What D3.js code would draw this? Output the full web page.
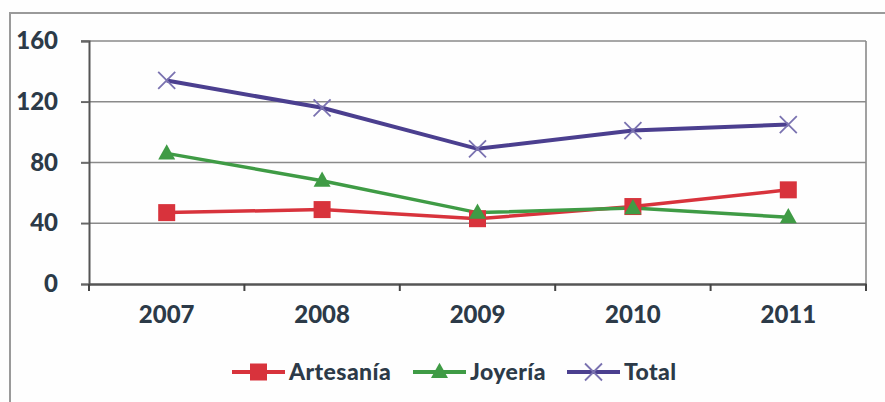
<!DOCTYPE html>
<html><head><meta charset="utf-8">
<script src="https://cdn.jsdelivr.net/npm/d3@7"></script>
<style>html,body{margin:0;padding:0;background:#fff;}svg{display:block;}</style>
</head><body>
<script>
const years = ["2007","2008","2009","2010","2011"];
const artesania = [47, 49, 43, 51, 62];
const joyeria = [86, 68, 47, 50, 44];
const total = [134, 116, 89, 101, 105];
const yTicks = [0, 40, 80, 120, 160];
const seriesNames = ["Artesanía","Joyería","Total"];

const W = 885, H = 402;
const m = {left: 89, right: 19, top: 41, bottom: 118};
const svg = d3.select("body").append("svg").attr("width", W).attr("height", H);
svg.append("rect").attr("width", W).attr("height", H).attr("fill", "#fefefe");
// outer frame
svg.append("path").attr("d", `M10,${H} L10,13 L${W},13`).attr("fill","none").attr("stroke","#9a9a9a").attr("stroke-width",2);

const x = d3.scaleBand().domain(years).range([m.left, W - m.right]);
const y = d3.scaleLinear().domain([0,160]).range([H - m.bottom, m.top]);
const textCol = "#2c3a48";
const font = "Lato, 'Open Sans', sans-serif";

// grid
svg.append("g").selectAll("line").data(yTicks.filter(d=>d>0)).join("line")
  .attr("x1", m.left - 8).attr("x2", W - m.right)
  .attr("y1", d=>y(d)).attr("y2", d=>y(d))
  .attr("stroke","#8a8a8a").attr("stroke-width",1.6);
// right border
svg.append("line").attr("x1", W-m.right).attr("x2", W-m.right).attr("y1", y(160)).attr("y2", y(0))
  .attr("stroke","#8a8a8a").attr("stroke-width",1.6);

// y axis
const yAxis = svg.append("g").attr("transform",`translate(${m.left},0)`)
  .call(d3.axisLeft(y).tickValues(yTicks).tickSize(8).tickPadding(23));
yAxis.select(".domain").attr("stroke","#555").attr("stroke-width",2);
yAxis.selectAll(".tick line").attr("stroke","#666").attr("stroke-width",1.6);
yAxis.selectAll("text").attr("font-family",font).attr("font-weight","900").attr("font-size",24).attr("fill",textCol);

// x axis
const xAxis = svg.append("g").attr("transform",`translate(0,${y(0)})`)
  .call(d3.axisBottom(x).tickSize(0).tickPadding(22));
xAxis.select(".domain").attr("stroke","#555").attr("stroke-width",2.5);
xAxis.selectAll("text").attr("font-family",font).attr("font-weight","900").attr("font-size",24).attr("fill",textCol);
// boundary ticks
const bounds = years.map(d=>x(d)).concat([W - m.right]);
svg.append("g").selectAll("line").data(bounds).join("line")
  .attr("x1",d=>d).attr("x2",d=>d).attr("y1",y(0)).attr("y2",y(0)+7)
  .attr("stroke","#444").attr("stroke-width",2);

const cx = d => x(d) + x.bandwidth()/2;
const lineGen = vals => d3.line().x((v,i)=>cx(years[i])).y(v=>y(v))(vals);

const cols = {art:"#d8333c", joy:"#3f9b45", tot:"#4b3f8f", totM:"#7a72b0"};

// Total
svg.append("path").attr("d", lineGen(total)).attr("fill","none").attr("stroke",cols.tot).attr("stroke-width",4);
// Artesania
svg.append("path").attr("d", lineGen(artesania)).attr("fill","none").attr("stroke",cols.art).attr("stroke-width",3.5);
// Joyeria
svg.append("path").attr("d", lineGen(joyeria)).attr("fill","none").attr("stroke",cols.joy).attr("stroke-width",3.5);

function square(g, px, py, s){ g.append("rect").attr("x",px-s/2).attr("y",py-s/2).attr("width",s).attr("height",s).attr("fill",cols.art); }
function tri(g, px, py, s){ const h = s*0.9; g.append("path").attr("d",`M${px},${py-h*0.6} L${px+s/2},${py+h*0.4} L${px-s/2},${py+h*0.4} Z`).attr("fill",cols.joy); }
function cross(g, px, py, s){ g.append("path").attr("d",`M${px-s/2},${py-s/2} L${px+s/2},${py+s/2} M${px+s/2},${py-s/2} L${px-s/2},${py+s/2}`).attr("stroke",cols.totM).attr("stroke-width",1.8); }

const mk = svg.append("g");
total.forEach((v,i)=>cross(mk, cx(years[i]), y(v), 17));
artesania.forEach((v,i)=>square(mk, cx(years[i]), y(v), 17));
joyeria.forEach((v,i)=>tri(mk, cx(years[i]), y(v), 17));

// legend
const ly = 372;
const legendItems = [
  {name: seriesNames[0], x0: 232, col: cols.art, m: square},
  {name: seriesNames[1], x0: 413, col: cols.joy, m: tri},
  {name: seriesNames[2], x0: 567, col: cols.tot, m: cross}
];
const lg = svg.append("g");
legendItems.forEach(it=>{
  lg.append("line").attr("x1",it.x0).attr("x2",it.x0+53).attr("y1",ly).attr("y2",ly)
    .attr("stroke",it.col).attr("stroke-width",4);
  it.m(lg, it.x0+26.5, ly, 17);
  lg.append("text").attr("x",it.x0+57).attr("y",ly).attr("dy","0.35em")
    .attr("font-family",font).attr("font-weight","900").attr("font-size",23)
    .attr("letter-spacing","0.4px").attr("fill",textCol).text(it.name);
});
</script>
</body></html>
